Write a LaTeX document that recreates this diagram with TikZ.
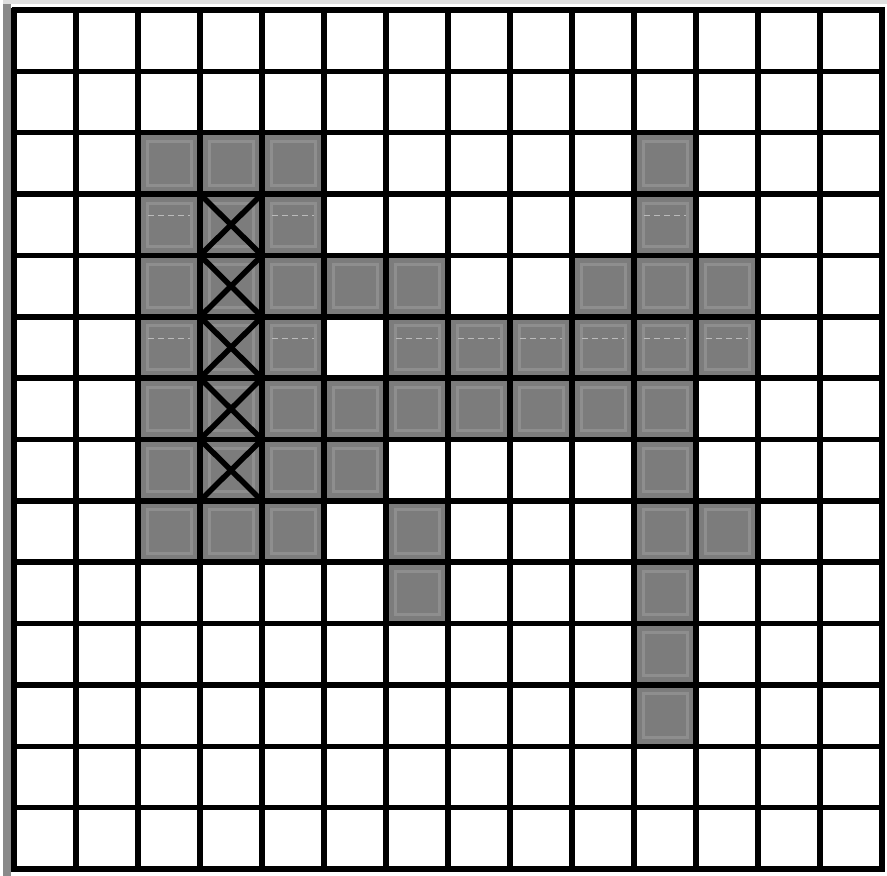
\documentclass[tikz,border=0pt]{standalone}
\begin{document}
\begin{tikzpicture}[x=1pt,y=-1pt,
  gridline/.style={black,line width=5.5pt},
  graycell/.style={fill=cellgray},
  innerrim/.style={draw=rimgray,line width=3pt},
  xmark/.style={black,line width=5.5pt}]
\definecolor{cellgray}{HTML}{7C7C7C}
\definecolor{rimgray}{HTML}{8E8E8E}
\definecolor{bargray}{HTML}{8A8A8A}
\useasboundingbox (0,0) rectangle (887,876);
\fill[white] (0,0) rectangle (887,876);
\fill[bargray] (3,3) rectangle (11,876);
\fill[gray!25] (3,0) rectangle (887,4);
\def\xo{14}\def\yo{10}\def\cw{62}\def\ch{61.36}
% gray cells: row/col
\foreach \r/\c in {2/2,2/3,2/4,2/10,
  3/2,3/3,3/4,3/10,
  4/2,4/3,4/4,4/5,4/6,4/9,4/10,4/11,
  5/2,5/3,5/4,5/6,5/7,5/8,5/9,5/10,5/11,
  6/2,6/3,6/4,6/5,6/6,6/7,6/8,6/9,6/10,
  7/2,7/3,7/4,7/5,7/10,
  8/2,8/3,8/4,8/6,8/10,8/11,
  9/6,9/10,10/10,11/10}{
  \fill[graycell] ({\xo+\c*\cw},{\yo+\r*\ch}) rectangle ({\xo+(\c+1)*\cw},{\yo+(\r+1)*\ch});
  \draw[innerrim] ({\xo+\c*\cw+9},{\yo+\r*\ch+9}) rectangle ({\xo+(\c+1)*\cw-9},{\yo+(\r+1)*\ch-9});
}
% faint dashes
\foreach \r/\c in {3/2,3/4,3/10,5/2,5/4,5/6,5/7,5/8,5/9,5/10,5/11}{
  \draw[rimgray!60!white,line width=1.5pt,dash pattern=on 6pt off 4pt] ({\xo+\c*\cw+10},{\yo+\r*\ch+\ch*0.35}) -- ({\xo+(\c+1)*\cw-10},{\yo+\r*\ch+\ch*0.35});
}
% X marks
\foreach \r in {3,...,7}{
  \draw[xmark] ({\xo+3*\cw},{\yo+\r*\ch}) -- ({\xo+4*\cw},{\yo+(\r+1)*\ch});
  \draw[xmark] ({\xo+4*\cw},{\yo+\r*\ch}) -- ({\xo+3*\cw},{\yo+(\r+1)*\ch});
}
% grid
\foreach \i in {0,...,14}{
  \draw[gridline] ({\xo+\i*\cw},{\yo-2.5}) -- ({\xo+\i*\cw},{\yo+14*\ch+2.5});
  \draw[gridline] ({\xo-2.5},{\yo+\i*\ch}) -- ({\xo+14*\cw+2.5},{\yo+\i*\ch});
}
\end{tikzpicture}
\end{document}
